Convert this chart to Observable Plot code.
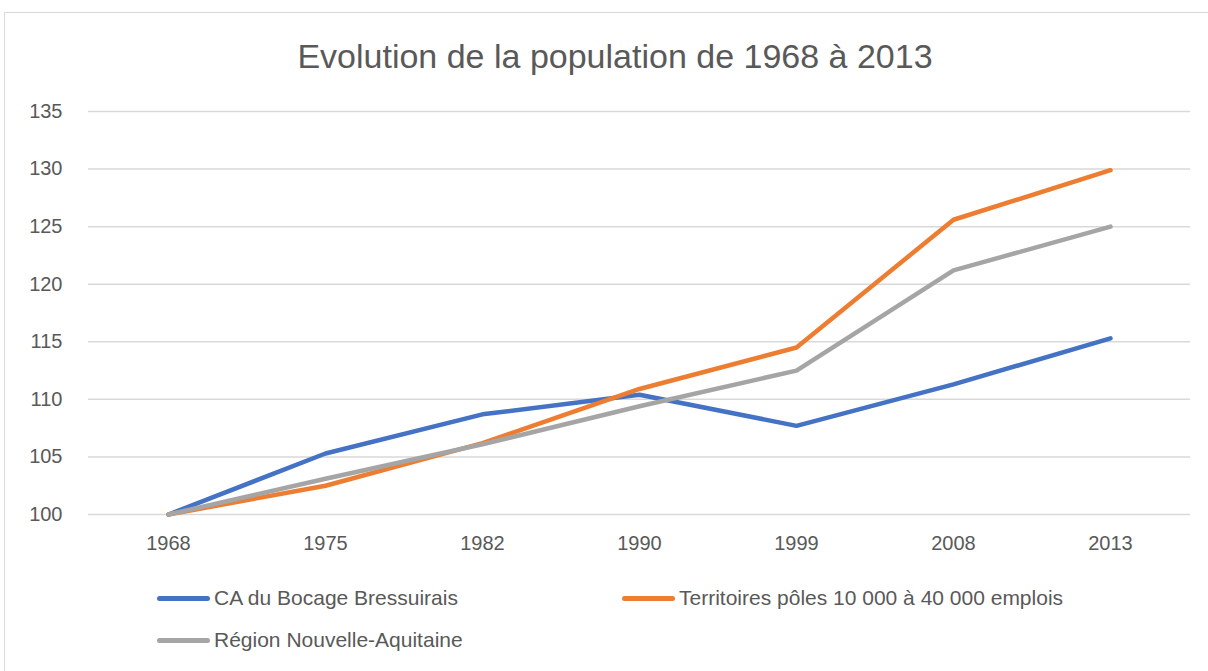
<!DOCTYPE html>
<html>
<head>
<meta charset="utf-8">
<script src="https://cdn.jsdelivr.net/npm/d3@7"></script>
<script src="https://cdn.jsdelivr.net/npm/@observablehq/plot@0.6"></script>
<style>
  body { margin: 0; background: #fff; font-family: "Liberation Sans", Arial, sans-serif; color: #595959; }
  #wrap { position: relative; width: 1208px; height: 671px; overflow: hidden; }
  #frame { position: absolute; left: 4px; top: 12px; width: 1220px; height: 700px; border: 1px solid #d9d9d9; box-sizing: border-box; }
  #title { position: absolute; left: 0; width: 1230px; top: 36px; text-align: center; font-size: 34px; line-height: 40px; color: #595959; white-space: nowrap; }
  #chart { position: absolute; left: 0; top: 90px; }
  .leg { position: absolute; font-size: 21px; line-height: 24px; color: #595959; white-space: nowrap; display: flex; align-items: center; }
  .sw { display: inline-block; width: 53px; height: 5px; border-radius: 3px; margin-right: 4px; }
</style>
</head>
<body>
<div id="wrap">
  <div id="frame"></div>
  <div id="title">Evolution de la population de 1968 à 2013</div>
  <div id="chart"></div>
  <div id="legend"></div>
</div>
<script>
const years = ["1968", "1975", "1982", "1990", "1999", "2008", "2013"];
const seriesNames = ["CA du Bocage Bressuirais", "Territoires pôles 10 000 à 40 000 emplois", "Région Nouvelle-Aquitaine"];
const seriesColors = ["#4472c4", "#ed7d31", "#a5a5a5"];
const bocage = [100, 105.3, 108.7, 110.4, 107.7, 111.3, 115.3];
const poles = [100, 102.5, 106.2, 110.9, 114.5, 125.6, 129.9];
const region = [100, 103.1, 106.1, 109.4, 112.5, 121.2, 125.0];
const yTicks = [100, 105, 110, 115, 120, 125, 130, 135];

const allValues = [bocage, poles, region];
const data = [];
allValues.forEach((vals, s) => vals.forEach((v, i) => data.push({series: seriesNames[s], year: years[i], value: v})));

const chart = Plot.plot({
  width: 1208,
  height: 470,
  marginTop: 21,
  marginBottom: 46,
  marginLeft: 88,
  marginRight: 18,
  style: { fontFamily: "Liberation Sans, Arial, sans-serif", fontSize: "20px", color: "#595959", background: "transparent" },
  x: { type: "point", domain: years, padding: 0.5, label: null },
  y: { domain: [100, 135], label: null },
  color: { domain: seriesNames, range: seriesColors },
  marks: [
    Plot.ruleY(yTicks, { stroke: "#d9d9d9", strokeWidth: 1.5 }),
    Plot.axisY(yTicks, { tickSize: 0, tickPadding: 26, fontSize: 20, fill: "#595959", label: null }),
    Plot.axisX({ tickSize: 0, tickPadding: 21, fontSize: 20, fill: "#595959", label: null }),
    Plot.line(data, { x: "year", y: "value", z: "series", stroke: "series", strokeWidth: 4.5, strokeLinecap: "round", strokeLinejoin: "round" })
  ]
});
document.getElementById("chart").appendChild(chart);

const legendPos = [[157, 598], [622, 598], [157, 640]];
const legend = document.getElementById("legend");
seriesNames.forEach((name, i) => {
  const d = document.createElement("div");
  d.className = "leg";
  d.style.left = legendPos[i][0] + "px";
  d.style.top = (legendPos[i][1] - 12) + "px";
  const sw = document.createElement("span");
  sw.className = "sw";
  sw.style.background = seriesColors[i];
  d.appendChild(sw);
  d.appendChild(document.createTextNode(name));
  legend.appendChild(d);
});
</script>
</body>
</html>
